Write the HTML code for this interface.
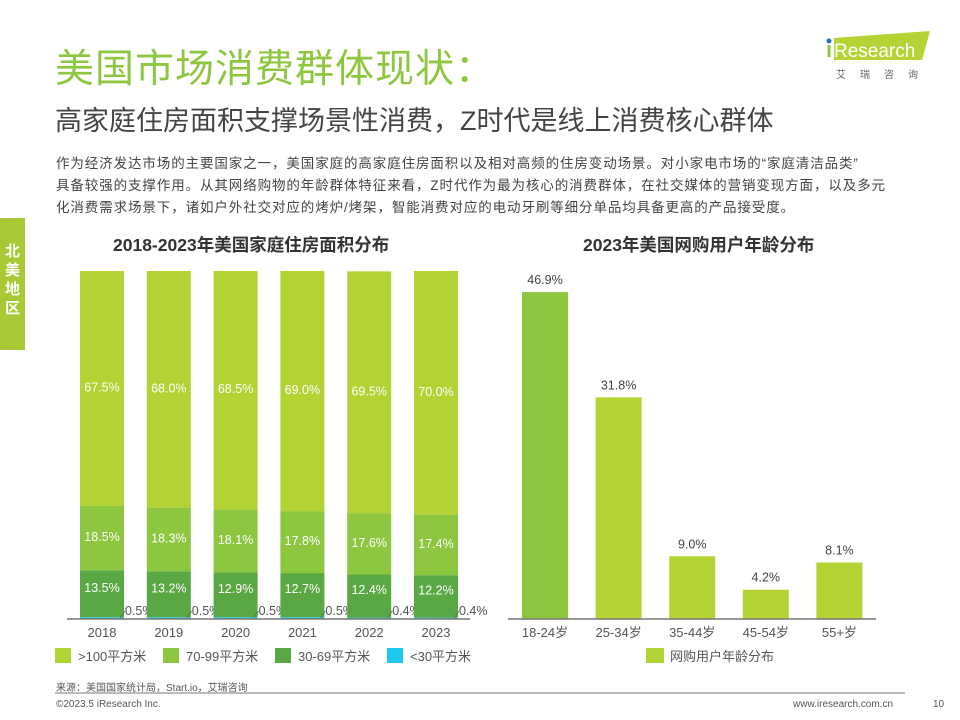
<!DOCTYPE html>
<html><head><meta charset="utf-8">
<style>
body{margin:0;width:960px;height:720px;background:#fff;position:relative;overflow:hidden;font-family:"Liberation Sans","Noto Sans CJK SC",sans-serif;}
.a{position:absolute;white-space:nowrap}
</style></head><body>
<div class="a" style="left:55px;top:38px;font-size:39px;color:#8dc63f;letter-spacing:1px">美国市场消费群体现状：</div>
<div class="a" style="left:55px;top:99px;font-size:27px;color:#444">高家庭住房面积支撑场景性消费，Z时代是线上消费核心群体</div>
<div class="a" style="left:822px;top:28px;width:120px;height:54px">
<svg width="120" height="54"><polygon points="12,10 108,3 100,32 12,32" fill="#b5d334"/><circle cx="7" cy="13" r="2.5" fill="#2a6eb4"/><rect x="5.5" y="17" width="3" height="12" fill="#8dc63f"/><text x="12" y="29" font-size="19" fill="#fff" font-family="Liberation Sans">Research</text><text x="14" y="50" font-size="10" fill="#666" letter-spacing="14" font-family="Noto Sans CJK SC">艾瑞咨询</text></svg></div>
<div class="a" style="left:56px;top:153px;font-size:13.5px;line-height:22px;color:#444;letter-spacing:0.9px">作为经济发达市场的主要国家之一，美国家庭的高家庭住房面积以及相对高频的住房变动场景。对小家电市场的“家庭清洁品类”<br>具备较强的支撑作用。从其网络购物的年龄群体特征来看，Z时代作为最为核心的消费群体，在社交媒体的营销变现方面，以及多元<br>化消费需求场景下，诸如户外社交对应的烤炉/烤架，智能消费对应的电动牙刷等细分单品均具备更高的产品接受度。</div>
<div class="a" style="left:0;top:218px;width:25px;height:132px;background:#a8c935;color:#fff;font-weight:bold;font-size:15px;line-height:19px;text-align:center;padding-top:24px;box-sizing:border-box;white-space:normal">北<br>美<br>地<br>区</div>
<div class="a" style="left:113px;top:232px;font-size:17.5px;font-weight:bold;color:#333">2018-2023年美国家庭住房面积分布</div>
<div class="a" style="left:583px;top:232px;font-size:17.5px;font-weight:bold;color:#333">2023年美国网购用户年龄分布</div>
<svg class="a" style="left:0;top:0" width="960" height="720" id="chart"></svg>
<div class="a" style="left:56px;top:679px;font-size:10px;color:#555">来源：美国国家统计局，Start.io，艾瑞咨询</div>
<div class="a" style="left:55px;top:692px;width:850px;height:2px;background:#bbb"></div>
<div class="a" style="left:56px;top:699px;font-size:10px;color:#555">©2023.5 iResearch Inc.</div>
<div class="a" style="left:793px;top:699px;font-size:10px;color:#555">www.iresearch.com.cn</div>
<div class="a" style="left:933px;top:699px;font-size:10px;color:#555">10</div>
<script>
const years=["2018","2019","2020","2021","2022","2023"];
const s100=[67.5,68.0,68.5,69.0,69.5,70.0];
const s7099=[18.5,18.3,18.1,17.8,17.6,17.4];
const s3069=[13.5,13.2,12.9,12.7,12.4,12.2];
const s30=[0.5,0.5,0.5,0.5,0.4,0.4];
const ages=["18-24岁","25-34岁","35-44岁","45-54岁","55+岁"];
const ageVals=[46.9,31.8,9.0,4.2,8.1];
const NS="http://www.w3.org/2000/svg";
const svg=document.getElementById('chart');
function mk(t,at,txt){const e=document.createElementNS(NS,t);for(const k in at)e.setAttribute(k,at[k]);if(txt!=null)e.textContent=txt;svg.appendChild(e);return e;}
const F='"Liberation Sans","Noto Sans CJK SC",sans-serif';
const base=619,H=348,x0=80,step=66.8,bw=44;
const ly=v=>v/100*H;
const series=[[s30,"#1ec8f0"],[s3069,"#5aa843"],[s7099,"#8dc63f"],[s100,"#b3d334"]];
years.forEach((yr,i)=>{
  const x=x0+i*step;let acc=0;
  series.forEach(([arr,c],k)=>{
    const h=ly(arr[i]);const top=base-ly(acc)-h;
    const r=mk('rect',{x:x,y:top,width:bw,height:h,fill:c});
    
    
    if(k>0){const t=mk('text',{x:x+bw/2,y:top+h/2+(k==1?-2:3),'text-anchor':'middle','font-size':12.5,fill:'#fff','font-family':F},arr[i].toFixed(1)+'%');
      
      }
    acc+=arr[i];
  });
  mk('line',{x1:x+bw-4,y1:base-1,x2:x+bw+1,y2:base-8,stroke:'#666','stroke-width':0.8});
  const t=mk('text',{x:x+bw+1,y:base-4,'font-size':12.5,fill:'#555','font-family':F},s30[i].toFixed(1)+'%');
  
  
  const tl=mk('text',{x:x+bw/2,y:base+18,'text-anchor':'middle','font-size':13,fill:'#555','font-family':F},yr);
  
  
});
mk('line',{x1:67,y1:base,x2:470,y2:base,stroke:'#777','stroke-width':1.5});
const leg=[["#b3d334",">100平方米",55],["#8dc63f","70-99平方米",163],["#5aa843","30-69平方米",275],["#1ec8f0","<30平方米",387]];
leg.forEach(([c,l,x])=>{mk('rect',{x:x,y:648,width:16,height:15,fill:c});
  const t=mk('text',{x:x+23,y:661,'font-size':13,fill:'#555','font-family':F},l);
  });
const rx0=522,rstep=73.6,rbw=46,rs=6.97;
ages.forEach((a,i)=>{
  const x=rx0+i*rstep,h=ageVals[i]*rs;
  const r=mk('rect',{x:x,y:base-h,width:rbw,height:h,fill:i==0?'#8cc63f':'#b3d334'});
  
  
  const t=mk('text',{x:x+rbw/2,y:base-h-8,'text-anchor':'middle','font-size':12.5,fill:'#444','font-family':F},ageVals[i].toFixed(1)+'%');
  
  
  const tl=mk('text',{x:x+rbw/2,y:base+18,'text-anchor':'middle','font-size':13,fill:'#555','font-family':F},a);
  
  
});
mk('line',{x1:508,y1:base,x2:876,y2:base,stroke:'#777','stroke-width':1.5});
mk('rect',{x:646,y:648,width:18,height:15,fill:'#b3d334'});
const lt=mk('text',{x:670,y:661,'font-size':13,fill:'#555','font-family':F},'网购用户年龄分布');


</script>
</body></html>
